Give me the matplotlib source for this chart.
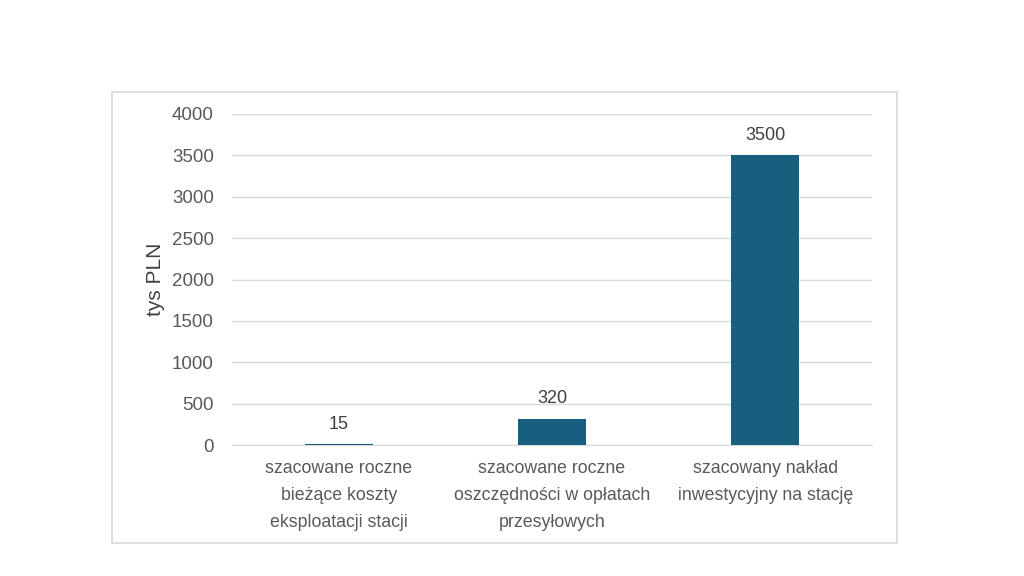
import matplotlib.pyplot as plt
from matplotlib.patches import Rectangle

categories = ["szacowane roczne\nbieżące koszty\neksploatacji stacji",
              "szacowane roczne\noszczędności w opłatach\nprzesyłowych",
              "szacowany nakład\ninwestycyjny na stację"]
values = [15, 320, 3500]
yticks = [0, 500, 1000, 1500, 2000, 2500, 3000, 3500, 4000]

plt.rcParams['font.family'] = ['Liberation Sans', 'DejaVu Sans']
txt = '#595959'
bar_color = '#175E7F'

fig = plt.figure(figsize=(10.24, 5.76), dpi=100)
fig.patches.append(Rectangle((112/1024, 1-543/576), 785/1024, 451/576,
                             transform=fig.transFigure, fill=False,
                             edgecolor='#d9d9d9', linewidth=1.2))
ax = fig.add_axes([232/1024, 1-445/576, 640/1024, 331/576])

x = range(len(categories))
bars = ax.bar(x, values, width=0.32, color=bar_color, zorder=3)
for xi, v in zip(x, values):
    ax.annotate(str(v), (xi, v), xytext=(0, 8), textcoords='offset points',
                ha='center', va='bottom', fontsize=13, color='#404040')

ax.set_xlim(-0.5, 2.5)
ax.set_ylim(0, 4000)
ax.set_yticks(yticks)
ax.set_xticks(list(x))
ax.set_xticklabels(categories, fontsize=12.8, color=txt, linespacing=1.75)
ax.tick_params(axis='y', labelsize=13.5, labelcolor=txt, length=0, pad=13)
ax.tick_params(axis='x', length=0, pad=11)
ax.grid(axis='y', color='#d9d9d9', linewidth=1, zorder=0)
for s in ['top', 'right', 'left']:
    ax.spines[s].set_visible(False)
ax.spines['bottom'].set_color('#d9d9d9')
ax.set_ylabel('tys PLN', fontsize=15, color='#404040', labelpad=5)

fig.savefig('out.png', dpi=100)
